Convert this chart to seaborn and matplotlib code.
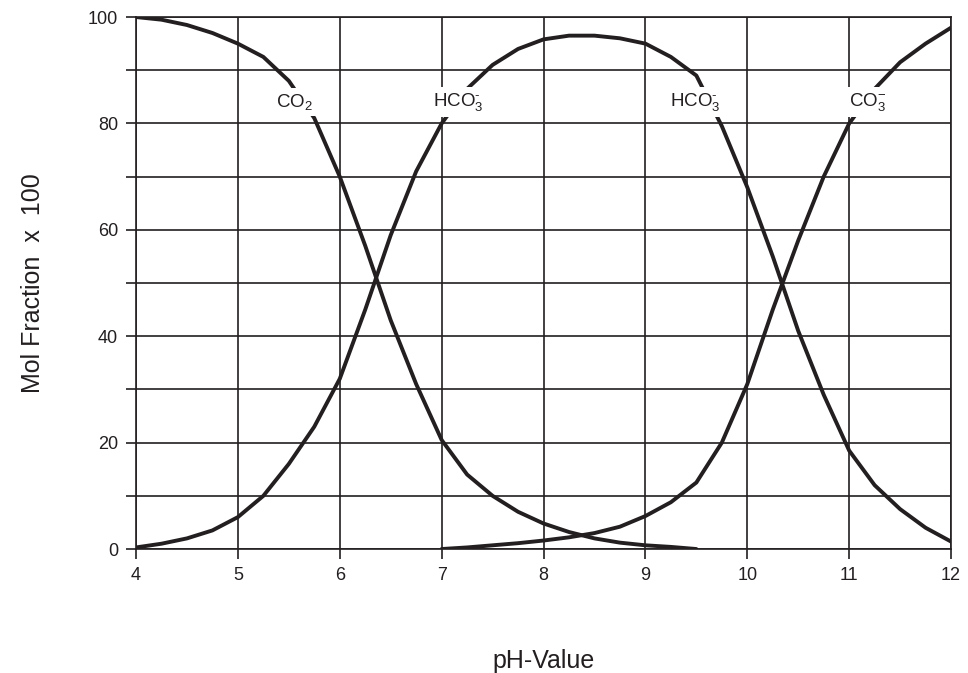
import numpy as np
import pandas as pd
import matplotlib
matplotlib.use('Agg')
import matplotlib.pyplot as plt
import seaborn as sns

# Data (pH vs mol fraction x 100)
ph_co2 = [4.0, 4.25, 4.5, 4.75, 5.0, 5.25, 5.5, 5.75, 6.0, 6.25, 6.5, 6.75,
          7.0, 7.25, 7.5, 7.75, 8.0, 8.25, 8.5, 8.75, 9.0, 9.25, 9.5]
co2 = [100, 99.5, 98.5, 97, 95, 92.5, 88, 81, 70, 57, 43, 31,
       20.5, 14, 10, 7, 4.8, 3.2, 2, 1.2, 0.7, 0.4, 0]

ph_hco3 = [4.0, 4.25, 4.5, 4.75, 5.0, 5.25, 5.5, 5.75, 6.0, 6.25, 6.5, 6.75,
           7.0, 7.25, 7.5, 7.75, 8.0, 8.25, 8.5, 8.75, 9.0, 9.25, 9.5, 9.75,
           10.0, 10.25, 10.5, 10.75, 11.0, 11.25, 11.5, 11.75, 12.0]
hco3 = [0.3, 1, 2, 3.5, 6, 10, 16, 23, 32, 45, 59, 71,
        80, 86.5, 91, 94, 95.8, 96.5, 96.5, 96, 95, 92.5, 89, 79.5,
        68, 55, 41, 29, 18.5, 12, 7.5, 4, 1.4]

ph_co3 = [7.0, 7.25, 7.5, 7.75, 8.0, 8.25, 8.5, 8.75, 9.0, 9.25, 9.5,
          9.75, 10.0, 10.25, 10.5, 10.75, 11.0, 11.25, 11.5, 11.75, 12.0]
co3 = [0, 0.3, 0.7, 1.1, 1.6, 2.2, 3, 4.2, 6.2, 8.8, 12.5,
       20, 31, 45, 58, 70, 80, 86.5, 91.5, 95, 98]

labels = [r'CO$_2$', r'HCO$_3^{\text{-}}$', r'HCO$_3^{\text{-}}$', r'CO$_3^{-}$']
label_x = [5.56, 7.16, 9.49, 11.18]
label_y = [84, 84, 84, 84]

sns.set_theme(style="white")
plt.rcParams['font.family'] = ['Liberation Sans', 'DejaVu Sans']
plt.rcParams['mathtext.fontset'] = 'custom'
plt.rcParams['mathtext.rm'] = 'Liberation Sans'
plt.rcParams['mathtext.it'] = 'Liberation Sans'
plt.rcParams['mathtext.default'] = 'rm'

fig = plt.figure(figsize=(9.68, 6.73), dpi=100)
ax = fig.add_axes([0.1405, 0.1842, 0.842, 0.7905])

for x, y in [(ph_co2, co2), (ph_hco3, hco3), (ph_co3, co3)]:
    df = pd.DataFrame({'pH': x, 'frac': y})
    sns.lineplot(data=df, x='pH', y='frac', ax=ax, color='#231f20',
                 linewidth=2.8, zorder=3, solid_joinstyle='round')

for t, x, y in zip(labels, label_x, label_y):
    ax.text(x, y, t, ha='center', va='center', fontsize=13.5, color='#231f20',
            zorder=5, bbox=dict(facecolor='white', edgecolor='none', pad=3))

ax.set_xlim(4, 12)
ax.set_ylim(0, 100)
ax.set_xticks(range(4, 13))
ax.set_yticks(range(0, 101, 10))
ax.set_yticklabels([str(v) if v % 20 == 0 else '' for v in range(0, 101, 10)])
ax.grid(True, color='#231f20', linewidth=1.2)
ax.set_axisbelow(True)
for s in ax.spines.values():
    s.set_color('#231f20')
    s.set_linewidth(1.2)
ax.tick_params(axis='both', direction='out', length=7, width=1.2,
               color='#231f20', labelsize=13, labelcolor='#231f20',
               bottom=True, left=True, pad=6)
ax.set_xlabel('pH-Value', fontsize=18, labelpad=47, color='#231f20')
ax.set_ylabel('Mol Fraction  x  100', fontsize=18, labelpad=31, color='#231f20')

plt.savefig('out.png', dpi=100)
